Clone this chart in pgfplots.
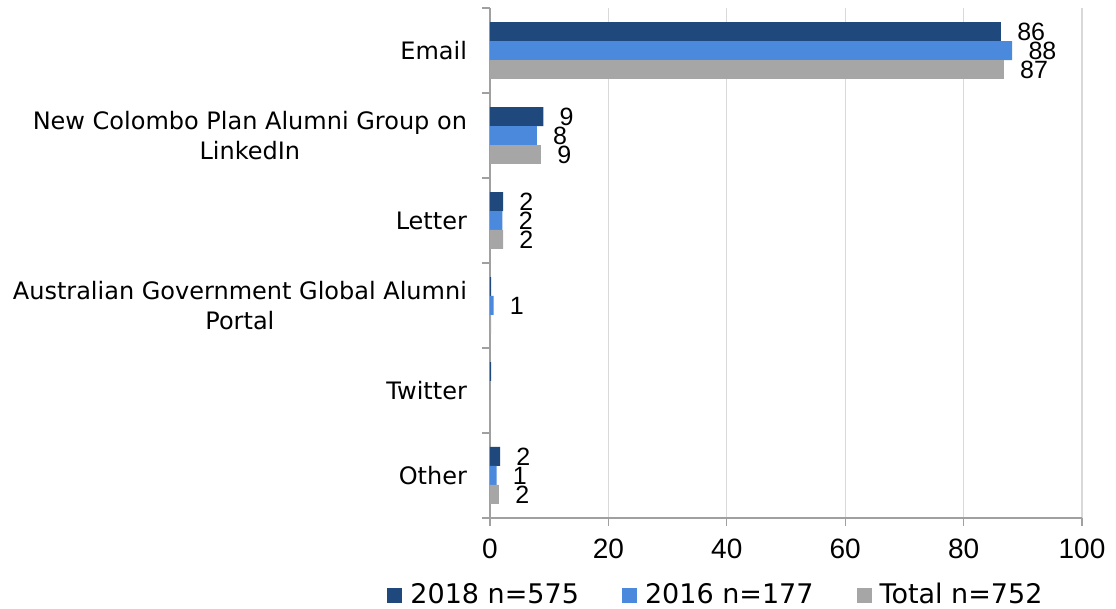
\documentclass[border=0pt]{standalone}
\usepackage{pgfplots}
\pgfplotsset{compat=1.18}
\usepackage{fontspec}
\setmainfont{DejaVu Sans}
\newfontfamily\numfont{Liberation Sans}
\definecolor{cA}{RGB}{31,73,125}
\definecolor{cB}{RGB}{74,137,220}
\definecolor{cC}{RGB}{166,166,166}
\definecolor{gridg}{RGB}{217,217,217}
\definecolor{axg}{RGB}{160,160,160}
\begin{document}
\begin{tikzpicture}
\useasboundingbox (-245pt,-45.5pt) rectangle (313pt,259pt);
\begin{axis}[
 at={(0,0)}, anchor=south west, scale only axis, width=296pt, height=255pt,
 xbar, bar width=0.2235,
 xmin=0, xmax=100, ymin=-0.5, ymax=5.5,
 axis lines*=left,
 axis line style={axg, line width=0.6pt},
 xtick={0,20,...,100}, xmajorgrids, major grid style={gridg, line width=0.6pt},
 x tick label style={font=\numfont\fontsize{14}{16}\selectfont, yshift=-3pt},
 /pgf/number format/assume math mode=true,
 ytick={0,...,5},
 yticklabels={Other,Twitter,{Australian Government Global Alumni\\Portal},Letter,{New Colombo Plan Alumni Group on\\LinkedIn},Email},
 y tick label style={align=center, font=\fontsize{12}{15}\selectfont, xshift=-4pt},
 major y tick style={draw=none},
 minor ytick={-0.5,0.5,...,5.5},
 minor tick length=4pt, major tick length=4pt,
 tick align=outside,
 tick style={axg, line width=0.6pt},
 point meta=explicit symbolic,
 nodes near coords,
 nodes near coords style={font=\numfont\fontsize{12.5}{14}\selectfont, anchor=west, inner sep=0pt, xshift=8pt, text=black},
 legend columns=3,
 legend style={draw=none, at={(axis description cs:-0.184,-0.151)}, anchor=west, font=\fontsize{13.5}{15}\selectfont,
   /tikz/every even column/.append style={column sep=19.5pt}},
 legend image code/.code={\fill[#1] (0pt,-3.75pt) rectangle (7.5pt,3.75pt); \path (9.5pt,0pt);},
]
\addplot[fill=cA, draw=none, bar shift=0.2235] coordinates {(86.3,5) [86] (9.0,4) [9] (2.2,3) [2] (0.2,2) [{}] (0.2,1) [{}] (1.7,0) [2]};
\addplot[fill=cB, draw=none, bar shift=0] coordinates {(88.2,5) [88] (7.9,4) [8] (2.1,3) [2] (0.6,2) [1] (0,1) [{}] (1.1,0) [1]};
\addplot[fill=cC, draw=none, bar shift=-0.2235] coordinates {(86.8,5) [87] (8.6,4) [9] (2.2,3) [2] (0.2,2) [{}] (0.1,1) [{}] (1.5,0) [2]};
\legend{2018 n=575, 2016 n=177, Total n=752}
\end{axis}
\end{tikzpicture}
\end{document}
